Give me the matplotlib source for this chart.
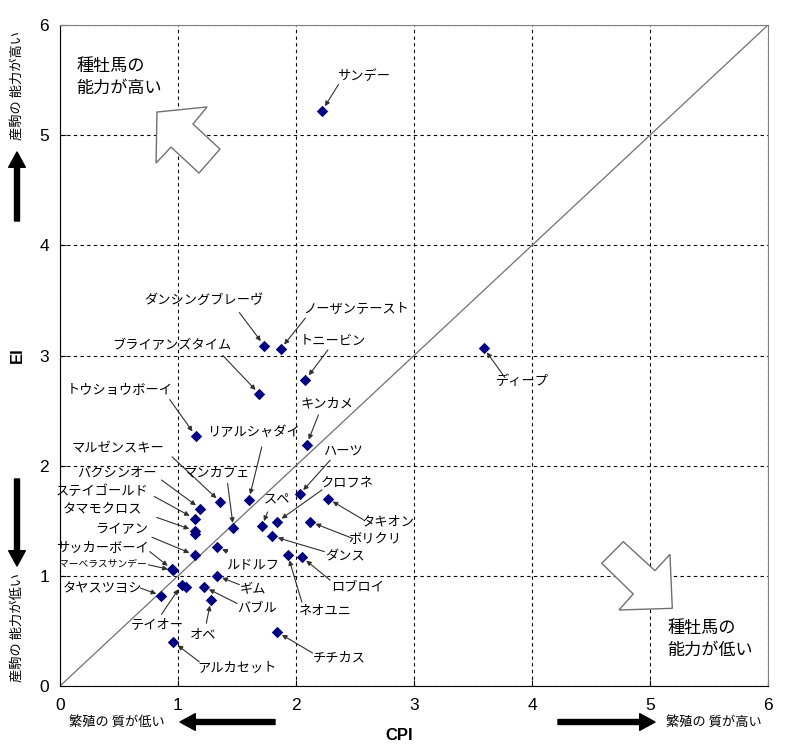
import matplotlib
matplotlib.use('Agg')
import matplotlib.pyplot as plt
from matplotlib.patches import Polygon

plt.rcParams['font.family'] = ['Noto Sans CJK JP', 'DejaVu Sans']

# 種牡馬ごとの CPI と EI
names = ['サンデー', 'ディープ', 'ダンシングブレーヴ', 'ノーザンテースト', 'トニービン',
         'ブライアンズタイム', 'トウショウボーイ', 'キンカメ', 'リアルシャダイ', 'マルゼンスキー',
         'マンカフェ', 'バクシンオー', 'ステイゴールド', 'タマモクロス', '',
         'ライアン', 'サッカーボーイ', 'マーベラスサンデー', 'ルドルフ', 'ギム',
         'タヤスツヨシ', 'テイオー', '', 'バブル', 'オベ',
         'アルカセット', 'チチカス', 'スペ', 'ハーツ', 'クロフネ',
         'タキオン', 'ボリクリ', 'ダンス', 'ロブロイ', 'ネオユニ']
cpi = [2.22, 3.59, 1.73, 1.87, 2.08,
       1.69, 1.15, 2.09, 1.60, 1.36,
       1.47, 1.19, 1.14, 1.14, 1.14,
       1.14, 0.95, 0.96, 1.33, 1.33,
       0.86, 1.03, 1.07, 1.22, 1.28,
       0.96, 1.84, 1.71, 2.03, 1.84,
       2.27, 2.12, 1.80, 2.05, 1.93]
ei = [5.22, 3.07, 3.09, 3.06, 2.78,
      2.65, 2.27, 2.19, 1.69, 1.67,
      1.43, 1.61, 1.52, 1.41, 1.38,
      1.19, 1.06, 1.05, 1.26, 1.00,
      0.82, 0.92, 0.90, 0.90, 0.78,
      0.40, 0.49, 1.45, 1.74, 1.49,
      1.70, 1.49, 1.36, 1.17, 1.19]

ticks = [0, 1, 2, 3, 4, 5, 6]

# ラベル位置 (文字の中心) と矢印の根元
label_pos = {
    'サンデー': (2.57, 5.53, 2.36, 5.46),
    'ディープ': (3.92, 2.76, 3.77, 2.80),
    'ダンシングブレーヴ': (1.22, 3.49, 1.52, 3.39),
    'ノーザンテースト': (2.51, 3.42, 2.08, 3.34),
    'トニービン': (2.31, 3.13, 2.27, 3.05),
    'ブライアンズタイム': (0.95, 3.09, 1.38, 3.00),
    'トウショウボーイ': (0.51, 2.68, 0.93, 2.60),
    'キンカメ': (2.26, 2.56, 2.19, 2.46),
    'リアルシャダイ': (1.64, 2.30, 1.71, 2.17),
    'マルゼンスキー': (0.49, 2.15, 0.95, 2.08),
    'マンカフェ': (1.33, 1.93, 1.42, 1.84),
    'バクシンオー': (0.48, 1.93, 0.86, 1.87),
    'ステイゴールド': (0.36, 1.77, 0.80, 1.72),
    'タマモクロス': (0.36, 1.60, 0.82, 1.53),
    'ライアン': (0.52, 1.42, 0.78, 1.35),
    'サッカーボーイ': (0.36, 1.26, 0.76, 1.22),
    'マーベラスサンデー': (0.36, 1.11, 0.75, 1.10),
    'ルドルフ': (1.63, 1.10, 1.42, 1.22),
    'ギム': (1.64, 0.87, 1.52, 0.92),
    'タヤスツヨシ': (0.36, 0.88, 0.68, 0.89),
    'テイオー': (0.82, 0.55, 0.86, 0.65),
    'バブル': (1.67, 0.71, 1.50, 0.75),
    'オベ': (1.21, 0.46, 1.24, 0.57),
    'アルカセット': (1.50, 0.17, 1.18, 0.22),
    'チチカス': (2.37, 0.25, 2.14, 0.30),
    'スペ': (1.84, 1.69, 1.76, 1.58),
    'ハーツ': (2.40, 2.12, 2.29, 2.05),
    'クロフネ': (2.43, 1.84, 2.22, 1.78),
    'タキオン': (2.78, 1.49, 2.57, 1.51),
    'ボリクリ': (2.67, 1.33, 2.48, 1.34),
    'ダンス': (2.42, 1.17, 2.24, 1.22),
    'ロブロイ': (2.52, 0.90, 2.29, 0.96),
    'ネオユニ': (2.25, 0.68, 2.05, 0.76),
}

fig = plt.figure(figsize=(7.88, 7.47), dpi=100)
ax = fig.add_axes([60 / 788, 61 / 747, 708 / 788, 661 / 747])

ax.set_xlim(0, 6)
ax.set_ylim(0, 6)
ax.set_xticks(ticks)
ax.set_yticks(ticks)
ax.tick_params(direction='in', length=4, labelsize=12.5, labelfontfamily='Liberation Sans')
ax.tick_params(axis='x', pad=9)
ax.tick_params(axis='y', pad=8)
ax.grid(True, color='black', linestyle=(0, (3, 3)), linewidth=0.8)
for s in ['top', 'right']:
    ax.spines[s].set_color('#808080')
ax.set_axisbelow(True)

# y = x の線
ax.plot([0, 6], [0, 6], color='#707070', lw=0.9, zorder=2)

ax.scatter(cpi, ei, marker='D', s=34, color='#000080', zorder=4, linewidths=0)

for n, x, y in zip(names, cpi, ei):
    if n == '':
        continue
    tx, ty, ax_, ay = label_pos[n]
    fs = 7 if n == 'マーベラスサンデー' else 9.5
    ax.text(tx, ty, n, fontsize=fs, ha='center', va='center', zorder=5)
    ax.annotate('', xy=(x, y), xytext=(ax_, ay),
                arrowprops=dict(arrowstyle='-|>', color='#303030', lw=0.8,
                                mutation_scale=7, shrinkA=0, shrinkB=4), zorder=5)

# 白抜きの矢印
up_arrow = [(0.822, 5.210), (1.246, 5.256), (1.127, 5.101), (1.356, 4.874),
            (1.178, 4.656), (0.941, 4.892), (0.814, 4.747)]
down_arrow = [(4.774, 1.310), (5.042, 1.047), (5.169, 1.195), (5.189, 0.705),
              (4.737, 0.690), (4.858, 0.835), (4.591, 1.114)]
for pts in [up_arrow, down_arrow]:
    ax.add_patch(Polygon(pts, closed=True, facecolor='white', edgecolor='#707070',
                         lw=1.0, zorder=3))

ax.text(0.14, 5.53, '種牡馬の\n能力が高い', fontsize=12.3, ha='left', va='center',
        linespacing=1.25, zorder=5)
ax.text(5.15, 0.43, '種牡馬の\n能力が低い', fontsize=12.3, ha='left', va='center',
        linespacing=1.25, zorder=5)

# 軸ラベル
fig.text(399 / 788, 1 - 736 / 747, 'CPI', fontsize=12, fontweight='bold',
         family='Liberation Sans', ha='center', va='center')
fig.text(17 / 788, 1 - 355 / 747, 'EI', fontsize=12, fontweight='bold',
         family='Liberation Sans', ha='center', va='center', rotation=90)

fig.text(117 / 788, 1 - 722 / 747, '繁殖の 質が低い', fontsize=9.5, ha='center', va='center')
fig.text(714 / 788, 1 - 722 / 747, '繁殖の 質が高い', fontsize=9.5, ha='center', va='center')
fig.text(17 / 788, 1 - 85 / 747, '産駒の 能力が高い', fontsize=9.5, ha='center', va='center',
         rotation=90)
fig.text(17 / 788, 1 - 628 / 747, '産駒の 能力が低い', fontsize=9.5, ha='center', va='center',
         rotation=90)

# 太い黒矢印
big = dict(arrowstyle='simple,head_width=1.2,head_length=1.1,tail_width=0.36',
           color='black', mutation_scale=10, shrinkA=0, shrinkB=0)
for tail, tip in [((17, 747 - 221), (17, 747 - 152)),
                  ((17, 747 - 479), (17, 747 - 566)),
                  ((275, 25), (180, 25)),
                  ((558, 25), (655, 25))]:
    fig.add_artist(matplotlib.text.Annotation('', xy=tip, xytext=tail,
                                              xycoords='figure pixels',
                                              arrowprops=big))

fig.savefig('out.png', dpi=100)
